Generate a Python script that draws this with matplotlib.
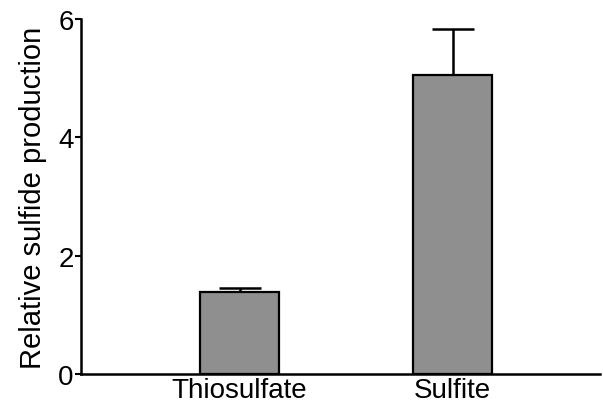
import matplotlib.pyplot as plt

plt.rcParams['font.family'] = ['Liberation Sans', 'DejaVu Sans']

categories = ["Thiosulfate", "Sulfite"]
means = [1.38, 5.05]
errors = [0.08, 0.78]

fig = plt.figure(figsize=(6.03, 4.10), dpi=100)
ax = fig.add_axes([0.134, 0.085, 0.861, 0.866])

x = list(range(len(categories)))
ax.bar(x, means, width=0.37, color="#8f8f8f", edgecolor="black", linewidth=1.6, zorder=2)
ax.errorbar(x, means, yerr=[[0] * len(errors), errors], fmt="none", ecolor="black",
            elinewidth=1.8, capsize=14.8, capthick=1.8, zorder=1)

ax.set_xlim(-0.744, 1.69)
ax.set_ylim(0, 6)
ax.set_yticks([0, 2, 4, 6])
ax.set_xticks(x)
ax.set_xticklabels(categories, fontsize=20)
ax.tick_params(axis="x", length=0, pad=2)
ax.tick_params(axis="y", length=4, width=1.5, labelsize=20, pad=1)
ax.set_ylabel("Relative sulfide production", fontsize=21, labelpad=8)

for side in ["top", "right"]:
    ax.spines[side].set_visible(False)
ax.spines["left"].set_linewidth(1.8)
ax.spines["bottom"].set_linewidth(1.8)

fig.savefig("out.png", dpi=100)
